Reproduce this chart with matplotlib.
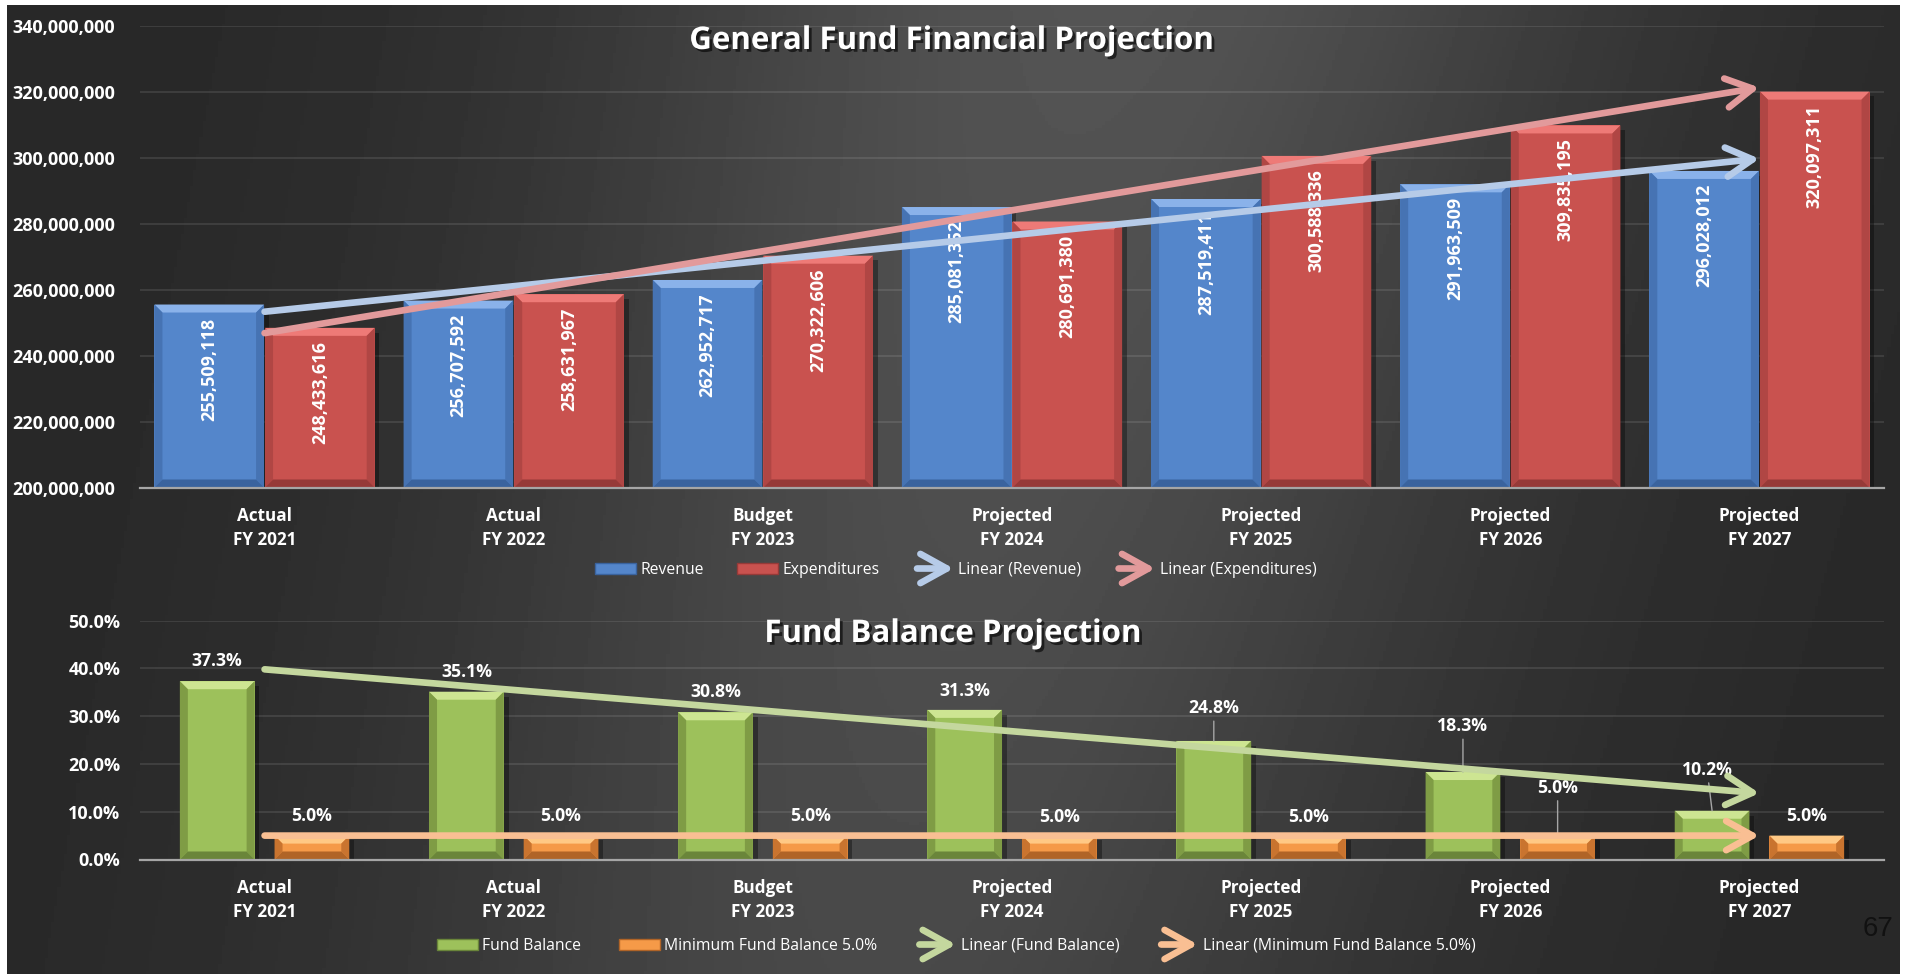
import matplotlib
matplotlib.use('Agg')
import matplotlib.pyplot as plt
import matplotlib.patheffects as pe
import numpy as np
from matplotlib.patches import Polygon, Rectangle, FancyArrowPatch, ArrowStyle
from matplotlib.legend_handler import HandlerBase
from matplotlib.lines import Line2D

plt.rcParams['font.family'] = ['Open Sans', 'DejaVu Sans']

# data
categories = ['Actual\nFY 2021', 'Actual\nFY 2022', 'Budget\nFY 2023', 'Projected\nFY 2024',
              'Projected\nFY 2025', 'Projected\nFY 2026', 'Projected\nFY 2027']
revenue = [255509118, 256707592, 262952717, 285081352, 287519411, 291963509, 296028012]
expenditures = [248433616, 258631967, 270322606, 280691380, 300588336, 309835195, 320097311]
fund_balance = [37.3, 35.1, 30.8, 31.3, 24.8, 18.3, 10.2]
min_balance = [5.0, 5.0, 5.0, 5.0, 5.0, 5.0, 5.0]
money_ticks = [200e6, 220e6, 240e6, 260e6, 280e6, 300e6, 320e6, 340e6]
pct_ticks = [0, 10, 20, 30, 40, 50]

# label offsets (pixels) for the hand-placed labels of the lower chart
fb_off = [(0, 20), (0, 20), (0, 20), (0, 19), (0, 33), (0, 46), (-5, 41)]
mb_off = [(0, 20), (0, 20), (0, 20), (0, 19), (0, 19), (0, 48), (0, 20)]
fb_leader = [False, False, False, False, True, True, True]
mb_leader = [False, False, False, False, False, True, False]

W, H = 1907, 974
fig = plt.figure(figsize=(W / 100, H / 100), dpi=100)
fig.patch.set_facecolor('white')

# dark gradient panel
bg = fig.add_axes([7 / W, 0, (1900 - 7) / W, 1 - 5 / H])
bg.set_axis_off()
yy, xx = np.mgrid[0:1:300j, 0:1:600j]
centre = 0.58 - 0.12 * yy
shade = 0.155 + 0.175 * np.exp(-((xx - centre) / 0.27) ** 2) * (1 - 0.25 * yy)
bg.imshow(shade, cmap='gray', vmin=0, vmax=1, aspect='auto', extent=(0, 1, 0, 1))

x = np.arange(len(categories))
BASE = '#a6a6a6'


def style_axis(ax, ticks, fmt, pad):
    ax.set_facecolor('none')
    for s in ax.spines.values():
        s.set_visible(False)
    ax.spines['bottom'].set_visible(True)
    ax.spines['bottom'].set_color(BASE)
    ax.spines['bottom'].set_linewidth(1.6)
    ax.set_xlim(-0.5, len(categories) - 0.5)
    ax.set_ylim(ticks[0], ticks[-1])
    ax.set_yticks(ticks, [fmt(t) for t in ticks])
    ax.set_xticks(x, categories)
    ax.grid(axis='y', color='white', alpha=0.11, lw=1.3)
    ax.set_axisbelow(True)
    ax.tick_params(length=0, colors='white')
    ax.tick_params(axis='y', labelsize=13, pad=pad)
    ax.tick_params(axis='x', labelsize=12.3, pad=14)
    for t in ax.get_yticklabels() + ax.get_xticklabels():
        t.set_fontweight('bold')
    for t in ax.get_xticklabels():
        t.set_linespacing(1.45)


def bevel(ax, bars, top_c, side_c, bot_c, b=8):
    x0l, x1l = ax.get_xlim()
    y0l, y1l = ax.get_ylim()
    bx = b * (x1l - x0l) / ax.bbox.width
    by = b * (y1l - y0l) / ax.bbox.height
    for r in bars:
        x0 = r.get_x()
        x1 = x0 + r.get_width()
        y0 = max(r.get_y(), y0l)
        y1 = r.get_y() + r.get_height()
        # shadow
        ax.add_patch(Rectangle((x0 + bx * 0.6, y0), x1 - x0, y1 - y0 - by * 0.6,
                               fc='black', alpha=0.35, ec='none', zorder=1.9))
        polys = [
            ([(x0, y1), (x1, y1), (x1 - bx, y1 - by), (x0 + bx, y1 - by)], top_c),
            ([(x0, y0), (x0 + bx, y0 + by), (x0 + bx, y1 - by), (x0, y1)], side_c),
            ([(x1, y0), (x1, y1), (x1 - bx, y1 - by), (x1 - bx, y0 + by)], side_c),
            ([(x0, y0), (x1, y0), (x1 - bx, y0 + by), (x0 + bx, y0 + by)], bot_c),
        ]
        for pts, c in polys:
            ax.add_patch(Polygon(pts, closed=True, fc=c, ec='none', zorder=2.1))


def arrow_style():
    return ArrowStyle('->', head_length=19, head_width=10.5)


def trend(ax, vals, color):
    k, c = np.polyfit(x, vals, 1)
    a = FancyArrowPatch((x[0], k * x[0] + c), (x[-1], k * x[-1] + c),
                        arrowstyle=arrow_style(), mutation_scale=1, lw=4.8,
                        color=color, capstyle='round', joinstyle='round',
                        shrinkA=0, shrinkB=0, zorder=4)
    ax.add_patch(a)


class ArrowHandler(HandlerBase):
    def create_artists(self, legend, orig, xd, yd, width, height, fontsize, trans):
        a = FancyArrowPatch((-xd + 3, -yd + height / 2), (-xd + width, -yd + height / 2),
                            arrowstyle=arrow_style(), mutation_scale=1, lw=4.8,
                            color=orig.get_color(), capstyle='round', joinstyle='round',
                            shrinkA=0, shrinkB=0, transform=trans)
        return [a]


title_fx = [pe.withSimplePatchShadow(offset=(2, -2), shadow_rgbFace='black', alpha=0.6)]

# ---------------- top chart
ax1 = fig.add_axes([140 / W, 1 - 487.5 / H, (1884 - 140) / W, (487.5 - 26) / H])
style_axis(ax1, money_ticks, lambda v: f'{v:,.0f}', 18)

BLUE, RED = '#5486cb', '#c9524f'
rev_bars = ax1.bar(x - 0.222, revenue, 0.44, color=BLUE, zorder=2)
exp_bars = ax1.bar(x + 0.222, expenditures, 0.44, color=RED, zorder=2)
bevel(ax1, rev_bars, '#8ab2ea', '#4673b3', '#3a639e')
bevel(ax1, exp_bars, '#ee7a77', '#b04644', '#963a38')

for bars, vals in ((rev_bars, revenue), (exp_bars, expenditures)):
    for r, v in zip(bars, vals):
        ax1.annotate(f'{v:,}', (r.get_x() + r.get_width() / 2, v), xytext=(0, -13),
                     textcoords='offset pixels', rotation=90, ha='center', va='top',
                     color='white', fontsize=13, fontweight='bold', zorder=3)

TR_BLUE, TR_RED = '#b6cbe8', '#e29a9b'
trend(ax1, revenue, TR_BLUE)
trend(ax1, expenditures, TR_RED)

fig.text(952 / W, 1 - 41 / H, 'General Fund Financial Projection', ha='center', va='center',
         fontsize=22.5, fontweight='bold', color='white', path_effects=title_fx)

h1 = [Rectangle((0, 0), 1, 1, fc=BLUE, ec='#3a639e', lw=1),
      Rectangle((0, 0), 1, 1, fc=RED, ec='#963a38', lw=1),
      Line2D([], [], color=TR_BLUE), Line2D([], [], color=TR_RED)]
fig.legend(h1, ['Revenue', 'Expenditures', 'Linear (Revenue)', 'Linear (Expenditures)'],
           loc='center', bbox_to_anchor=(956 / W, 1 - 570 / H), ncol=4, frameon=False,
           fontsize=11.3, labelcolor='white', handlelength=2.6, handletextpad=0.3,
           columnspacing=2.1, handler_map={h1[2]: ArrowHandler(), h1[3]: ArrowHandler()})

# ---------------- bottom chart
ax2 = fig.add_axes([140 / W, 1 - 859.5 / H, (1884 - 140) / W, (859.5 - 620.5) / H])
style_axis(ax2, pct_ticks, lambda v: f'{v:.1f}%', 14)

GREEN, ORANGE = '#9dc15b', '#f59a48'
fb_bars = ax2.bar(x - 0.19, fund_balance, 0.30, color=GREEN, zorder=2)
mb_bars = ax2.bar(x + 0.19, min_balance, 0.30, color=ORANGE, zorder=2)
bevel(ax2, fb_bars, '#cde592', '#7f9c45', '#6a853a')
bevel(ax2, mb_bars, '#ffc985', '#c9742f', '#b06427')

for bars, vals, offs, leads in ((fb_bars, fund_balance, fb_off, fb_leader),
                                (mb_bars, min_balance, mb_off, mb_leader)):
    for r, v, o, ld in zip(bars, vals, offs, leads):
        kw = {}
        if ld:
            kw['arrowprops'] = dict(arrowstyle='-', color=BASE, lw=1, shrinkA=1, shrinkB=0)
        ax2.annotate(f'{v:.1f}%', (r.get_x() + r.get_width() / 2, v), xytext=o,
                     textcoords='offset pixels', ha='center', va='center',
                     color='white', fontsize=12.7, fontweight='bold', zorder=3, **kw)

TR_GREEN, TR_ORANGE = '#c4d79e', '#f9bf93'
trend(ax2, fund_balance, TR_GREEN)
trend(ax2, min_balance, TR_ORANGE)

fig.text(953 / W, 1 - 634 / H, 'Fund Balance Projection', ha='center', va='center',
         fontsize=22.5, fontweight='bold', color='white', path_effects=title_fx)

h2 = [Rectangle((0, 0), 1, 1, fc=GREEN, ec='#6a853a', lw=1),
      Rectangle((0, 0), 1, 1, fc=ORANGE, ec='#b06427', lw=1),
      Line2D([], [], color=TR_GREEN), Line2D([], [], color=TR_ORANGE)]
fig.legend(h2, ['Fund Balance', 'Minimum Fund Balance 5.0%', 'Linear (Fund Balance)',
                'Linear (Minimum Fund Balance 5.0%)'],
           loc='center', bbox_to_anchor=(956 / W, 1 - 946 / H), ncol=4, frameon=False,
           fontsize=11.3, labelcolor='white', handlelength=2.6, handletextpad=0.3,
           columnspacing=2.4, handler_map={h2[2]: ArrowHandler(), h2[3]: ArrowHandler()})

# page number
fig.text(1878 / W, 1 - 929 / H, '67', ha='center', va='center', fontsize=20,
         color='#111111', family='Liberation Sans')

fig.savefig('out.png', dpi=100, facecolor=fig.get_facecolor())
